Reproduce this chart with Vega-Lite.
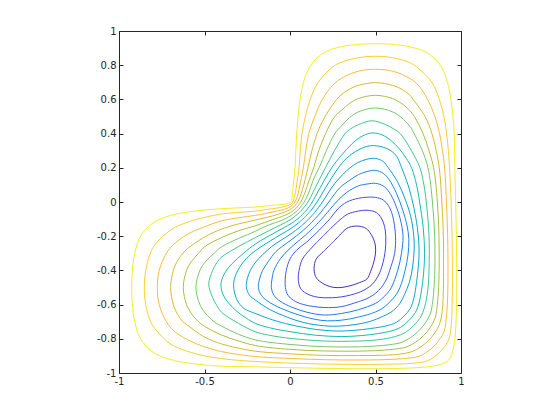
{
"$schema":"https://vega.github.io/schema/vega-lite/v6.json",
"width":342,"height":342,"autosize":"none",
"padding":{"left":119,"top":31,"right":99,"bottom":47},
"background":"white",
"config":{"view":{"stroke":null},"axis":{"grid":false,"domainColor":"#262626","domainWidth":1,"tickColor":"#262626","tickWidth":1,"tickSize":-4,"labelColor":"#262626","labelFont":"DejaVu Sans","labelFontSize":10,"labelFlush":false}},
"data":{"values":[
{"c":1,"x":0.003,"y":-0.003},{"c":1,"x":0.006,"y":0},{"c":1,"x":0.009,"y":0.009},{"c":1,"x":0.014,"y":0.04},{"c":1,"x":0.02,"y":0.11},{"c":1,"x":0.0295,"y":0.2},{"c":1,"x":0.034,"y":0.3},{"c":1,"x":0.039,"y":0.4},{"c":1,"x":0.047,"y":0.5},{"c":1,"x":0.059,"y":0.6},{"c":1,"x":0.079,"y":0.7},{"c":1,"x":0.121,"y":0.8},{"c":1,"x":0.2,"y":0.874},{"c":1,"x":0.3,"y":0.908},{"c":1,"x":0.4,"y":0.922},{"c":1,"x":0.5,"y":0.926},{"c":1,"x":0.6,"y":0.922},{"c":1,"x":0.7,"y":0.908},{"c":1,"x":0.8,"y":0.874},{"c":1,"x":0.879,"y":0.8},{"c":1,"x":0.921,"y":0.7},{"c":1,"x":0.941,"y":0.6},{"c":1,"x":0.953,"y":0.5},{"c":1,"x":0.96,"y":0.4},{"c":1,"x":0.964,"y":0.2},{"c":1,"x":0.969,"y":0},{"c":1,"x":0.973,"y":-0.2},{"c":1,"x":0.975,"y":-0.4},{"c":1,"x":0.974,"y":-0.6},{"c":1,"x":0.97,"y":-0.72},{"c":1,"x":0.962,"y":-0.82},{"c":1,"x":0.948,"y":-0.885},{"c":1,"x":0.926,"y":-0.926},{"c":1,"x":0.885,"y":-0.948},{"c":1,"x":0.82,"y":-0.962},{"c":1,"x":0.72,"y":-0.97},{"c":1,"x":0.6,"y":-0.974},{"c":1,"x":0.4,"y":-0.975},{"c":1,"x":0.2,"y":-0.973},{"c":1,"x":0,"y":-0.969},{"c":1,"x":-0.2,"y":-0.964},{"c":1,"x":-0.4,"y":-0.96},{"c":1,"x":-0.5,"y":-0.953},{"c":1,"x":-0.6,"y":-0.941},{"c":1,"x":-0.7,"y":-0.921},{"c":1,"x":-0.8,"y":-0.879},{"c":1,"x":-0.874,"y":-0.8},{"c":1,"x":-0.908,"y":-0.7},{"c":1,"x":-0.922,"y":-0.6},{"c":1,"x":-0.926,"y":-0.5},{"c":1,"x":-0.922,"y":-0.4},{"c":1,"x":-0.908,"y":-0.3},{"c":1,"x":-0.874,"y":-0.2},{"c":1,"x":-0.8,"y":-0.121},{"c":1,"x":-0.7,"y":-0.079},{"c":1,"x":-0.6,"y":-0.059},{"c":1,"x":-0.5,"y":-0.047},{"c":1,"x":-0.4,"y":-0.039},{"c":1,"x":-0.3,"y":-0.034},{"c":1,"x":-0.2,"y":-0.0295},{"c":1,"x":-0.11,"y":-0.02},{"c":1,"x":-0.04,"y":-0.014},{"c":1,"x":-0.009,"y":-0.009},{"c":1,"x":0,"y":-0.006},{"c":1,"x":0.003,"y":-0.003},
{"c":2,"x":0.009,"y":-0.009},{"c":2,"x":0.016,"y":0},{"c":2,"x":0.025,"y":0.025},{"c":2,"x":0.032,"y":0.055},{"c":2,"x":0.04,"y":0.11},{"c":2,"x":0.053,"y":0.2},{"c":2,"x":0.06,"y":0.3},{"c":2,"x":0.07,"y":0.4},{"c":2,"x":0.09,"y":0.5},{"c":2,"x":0.118,"y":0.6},{"c":2,"x":0.165,"y":0.7},{"c":2,"x":0.25,"y":0.79},{"c":2,"x":0.3,"y":0.817},{"c":2,"x":0.4,"y":0.844},{"c":2,"x":0.49,"y":0.852},{"c":2,"x":0.6,"y":0.844},{"c":2,"x":0.7,"y":0.815},{"c":2,"x":0.74,"y":0.79},{"c":2,"x":0.83,"y":0.7},{"c":2,"x":0.873,"y":0.6},{"c":2,"x":0.9,"y":0.5},{"c":2,"x":0.916,"y":0.4},{"c":2,"x":0.926,"y":0.3},{"c":2,"x":0.933,"y":0.2},{"c":2,"x":0.942,"y":0},{"c":2,"x":0.948,"y":-0.2},{"c":2,"x":0.95,"y":-0.4},{"c":2,"x":0.948,"y":-0.6},{"c":2,"x":0.943,"y":-0.72},{"c":2,"x":0.93,"y":-0.8},{"c":2,"x":0.908,"y":-0.84},{"c":2,"x":0.877,"y":-0.877},{"c":2,"x":0.84,"y":-0.908},{"c":2,"x":0.8,"y":-0.93},{"c":2,"x":0.72,"y":-0.943},{"c":2,"x":0.6,"y":-0.948},{"c":2,"x":0.4,"y":-0.95},{"c":2,"x":0.2,"y":-0.948},{"c":2,"x":0,"y":-0.942},{"c":2,"x":-0.2,"y":-0.933},{"c":2,"x":-0.3,"y":-0.926},{"c":2,"x":-0.4,"y":-0.916},{"c":2,"x":-0.5,"y":-0.9},{"c":2,"x":-0.6,"y":-0.873},{"c":2,"x":-0.7,"y":-0.83},{"c":2,"x":-0.79,"y":-0.74},{"c":2,"x":-0.815,"y":-0.7},{"c":2,"x":-0.844,"y":-0.6},{"c":2,"x":-0.852,"y":-0.49},{"c":2,"x":-0.844,"y":-0.4},{"c":2,"x":-0.817,"y":-0.3},{"c":2,"x":-0.79,"y":-0.25},{"c":2,"x":-0.7,"y":-0.165},{"c":2,"x":-0.6,"y":-0.118},{"c":2,"x":-0.5,"y":-0.09},{"c":2,"x":-0.4,"y":-0.07},{"c":2,"x":-0.3,"y":-0.06},{"c":2,"x":-0.2,"y":-0.053},{"c":2,"x":-0.11,"y":-0.04},{"c":2,"x":-0.055,"y":-0.032},{"c":2,"x":-0.025,"y":-0.025},{"c":2,"x":0,"y":-0.016},{"c":2,"x":0.009,"y":-0.009},
{"c":3,"x":0.016,"y":-0.016},{"c":3,"x":0.029,"y":0},{"c":3,"x":0.047,"y":0.047},{"c":3,"x":0.058,"y":0.1},{"c":3,"x":0.078,"y":0.2},{"c":3,"x":0.092,"y":0.3},{"c":3,"x":0.11,"y":0.4},{"c":3,"x":0.145,"y":0.5},{"c":3,"x":0.189,"y":0.6},{"c":3,"x":0.25,"y":0.683},{"c":3,"x":0.3,"y":0.723},{"c":3,"x":0.4,"y":0.765},{"c":3,"x":0.5,"y":0.776},{"c":3,"x":0.6,"y":0.765},{"c":3,"x":0.7,"y":0.723},{"c":3,"x":0.75,"y":0.683},{"c":3,"x":0.805,"y":0.6},{"c":3,"x":0.847,"y":0.5},{"c":3,"x":0.875,"y":0.4},{"c":3,"x":0.892,"y":0.3},{"c":3,"x":0.904,"y":0.2},{"c":3,"x":0.915,"y":0},{"c":3,"x":0.922,"y":-0.2},{"c":3,"x":0.924,"y":-0.4},{"c":3,"x":0.922,"y":-0.55},{"c":3,"x":0.916,"y":-0.66},{"c":3,"x":0.902,"y":-0.755},{"c":3,"x":0.877,"y":-0.8},{"c":3,"x":0.843,"y":-0.843},{"c":3,"x":0.8,"y":-0.877},{"c":3,"x":0.755,"y":-0.902},{"c":3,"x":0.66,"y":-0.916},{"c":3,"x":0.55,"y":-0.922},{"c":3,"x":0.4,"y":-0.924},{"c":3,"x":0.2,"y":-0.922},{"c":3,"x":0,"y":-0.915},{"c":3,"x":-0.2,"y":-0.904},{"c":3,"x":-0.3,"y":-0.892},{"c":3,"x":-0.4,"y":-0.875},{"c":3,"x":-0.5,"y":-0.847},{"c":3,"x":-0.6,"y":-0.805},{"c":3,"x":-0.683,"y":-0.75},{"c":3,"x":-0.723,"y":-0.7},{"c":3,"x":-0.765,"y":-0.6},{"c":3,"x":-0.776,"y":-0.5},{"c":3,"x":-0.765,"y":-0.4},{"c":3,"x":-0.723,"y":-0.3},{"c":3,"x":-0.683,"y":-0.25},{"c":3,"x":-0.6,"y":-0.189},{"c":3,"x":-0.5,"y":-0.145},{"c":3,"x":-0.4,"y":-0.11},{"c":3,"x":-0.3,"y":-0.092},{"c":3,"x":-0.2,"y":-0.078},{"c":3,"x":-0.1,"y":-0.058},{"c":3,"x":-0.047,"y":-0.047},{"c":3,"x":0,"y":-0.029},{"c":3,"x":0.016,"y":-0.016},
{"c":4,"x":0.025,"y":-0.025},{"c":4,"x":0.045,"y":0},{"c":4,"x":0.073,"y":0.073},{"c":4,"x":0.105,"y":0.2},{"c":4,"x":0.128,"y":0.3},{"c":4,"x":0.158,"y":0.4},{"c":4,"x":0.205,"y":0.5},{"c":4,"x":0.273,"y":0.6},{"c":4,"x":0.3,"y":0.627},{"c":4,"x":0.35,"y":0.661},{"c":4,"x":0.4,"y":0.682},{"c":4,"x":0.5,"y":0.698},{"c":4,"x":0.6,"y":0.682},{"c":4,"x":0.65,"y":0.661},{"c":4,"x":0.7,"y":0.627},{"c":4,"x":0.72,"y":0.6},{"c":4,"x":0.79,"y":0.5},{"c":4,"x":0.83,"y":0.4},{"c":4,"x":0.855,"y":0.3},{"c":4,"x":0.873,"y":0.2},{"c":4,"x":0.888,"y":0},{"c":4,"x":0.897,"y":-0.2},{"c":4,"x":0.898,"y":-0.4},{"c":4,"x":0.896,"y":-0.55},{"c":4,"x":0.89,"y":-0.64},{"c":4,"x":0.875,"y":-0.713},{"c":4,"x":0.847,"y":-0.765},{"c":4,"x":0.81,"y":-0.81},{"c":4,"x":0.765,"y":-0.847},{"c":4,"x":0.713,"y":-0.875},{"c":4,"x":0.64,"y":-0.89},{"c":4,"x":0.55,"y":-0.896},{"c":4,"x":0.4,"y":-0.898},{"c":4,"x":0.2,"y":-0.897},{"c":4,"x":0,"y":-0.888},{"c":4,"x":-0.2,"y":-0.873},{"c":4,"x":-0.3,"y":-0.855},{"c":4,"x":-0.4,"y":-0.83},{"c":4,"x":-0.5,"y":-0.79},{"c":4,"x":-0.6,"y":-0.72},{"c":4,"x":-0.627,"y":-0.7},{"c":4,"x":-0.661,"y":-0.65},{"c":4,"x":-0.682,"y":-0.6},{"c":4,"x":-0.698,"y":-0.5},{"c":4,"x":-0.682,"y":-0.4},{"c":4,"x":-0.661,"y":-0.35},{"c":4,"x":-0.627,"y":-0.3},{"c":4,"x":-0.6,"y":-0.273},{"c":4,"x":-0.5,"y":-0.205},{"c":4,"x":-0.4,"y":-0.158},{"c":4,"x":-0.3,"y":-0.128},{"c":4,"x":-0.2,"y":-0.105},{"c":4,"x":-0.073,"y":-0.073},{"c":4,"x":0,"y":-0.045},{"c":4,"x":0.025,"y":-0.025},
{"c":5,"x":0.036,"y":-0.036},{"c":5,"x":0.063,"y":0},{"c":5,"x":0.079,"y":0.033},{"c":5,"x":0.104,"y":0.104},{"c":5,"x":0.138,"y":0.2},{"c":5,"x":0.168,"y":0.3},{"c":5,"x":0.208,"y":0.4},{"c":5,"x":0.262,"y":0.5},{"c":5,"x":0.3,"y":0.535},{"c":5,"x":0.35,"y":0.578},{"c":5,"x":0.4,"y":0.605},{"c":5,"x":0.5,"y":0.624},{"c":5,"x":0.6,"y":0.605},{"c":5,"x":0.65,"y":0.578},{"c":5,"x":0.7,"y":0.535},{"c":5,"x":0.727,"y":0.5},{"c":5,"x":0.778,"y":0.4},{"c":5,"x":0.813,"y":0.3},{"c":5,"x":0.84,"y":0.2},{"c":5,"x":0.862,"y":0},{"c":5,"x":0.871,"y":-0.2},{"c":5,"x":0.872,"y":-0.4},{"c":5,"x":0.869,"y":-0.5},{"c":5,"x":0.862,"y":-0.6},{"c":5,"x":0.848,"y":-0.68},{"c":5,"x":0.82,"y":-0.734},{"c":5,"x":0.781,"y":-0.781},{"c":5,"x":0.734,"y":-0.82},{"c":5,"x":0.68,"y":-0.848},{"c":5,"x":0.6,"y":-0.862},{"c":5,"x":0.5,"y":-0.869},{"c":5,"x":0.4,"y":-0.872},{"c":5,"x":0.2,"y":-0.871},{"c":5,"x":0,"y":-0.862},{"c":5,"x":-0.2,"y":-0.84},{"c":5,"x":-0.3,"y":-0.813},{"c":5,"x":-0.4,"y":-0.778},{"c":5,"x":-0.5,"y":-0.727},{"c":5,"x":-0.535,"y":-0.7},{"c":5,"x":-0.578,"y":-0.65},{"c":5,"x":-0.605,"y":-0.6},{"c":5,"x":-0.624,"y":-0.5},{"c":5,"x":-0.605,"y":-0.4},{"c":5,"x":-0.578,"y":-0.35},{"c":5,"x":-0.535,"y":-0.3},{"c":5,"x":-0.5,"y":-0.262},{"c":5,"x":-0.4,"y":-0.208},{"c":5,"x":-0.3,"y":-0.168},{"c":5,"x":-0.2,"y":-0.138},{"c":5,"x":-0.104,"y":-0.104},{"c":5,"x":-0.033,"y":-0.079},{"c":5,"x":0,"y":-0.063},{"c":5,"x":0.036,"y":-0.036},
{"c":6,"x":0.047,"y":-0.047},{"c":6,"x":0.083,"y":0},{"c":6,"x":0.105,"y":0.043},{"c":6,"x":0.141,"y":0.141},{"c":6,"x":0.17,"y":0.2},{"c":6,"x":0.213,"y":0.3},{"c":6,"x":0.262,"y":0.4},{"c":6,"x":0.3,"y":0.444},{"c":6,"x":0.35,"y":0.495},{"c":6,"x":0.4,"y":0.527},{"c":6,"x":0.5,"y":0.55},{"c":6,"x":0.6,"y":0.527},{"c":6,"x":0.65,"y":0.495},{"c":6,"x":0.7,"y":0.444},{"c":6,"x":0.726,"y":0.4},{"c":6,"x":0.774,"y":0.3},{"c":6,"x":0.807,"y":0.2},{"c":6,"x":0.833,"y":0},{"c":6,"x":0.846,"y":-0.2},{"c":6,"x":0.847,"y":-0.4},{"c":6,"x":0.842,"y":-0.5},{"c":6,"x":0.835,"y":-0.58},{"c":6,"x":0.82,"y":-0.655},{"c":6,"x":0.792,"y":-0.706},{"c":6,"x":0.753,"y":-0.753},{"c":6,"x":0.706,"y":-0.792},{"c":6,"x":0.655,"y":-0.82},{"c":6,"x":0.58,"y":-0.835},{"c":6,"x":0.5,"y":-0.842},{"c":6,"x":0.4,"y":-0.847},{"c":6,"x":0.2,"y":-0.846},{"c":6,"x":0,"y":-0.833},{"c":6,"x":-0.2,"y":-0.807},{"c":6,"x":-0.3,"y":-0.774},{"c":6,"x":-0.4,"y":-0.726},{"c":6,"x":-0.444,"y":-0.7},{"c":6,"x":-0.495,"y":-0.65},{"c":6,"x":-0.527,"y":-0.6},{"c":6,"x":-0.55,"y":-0.5},{"c":6,"x":-0.527,"y":-0.4},{"c":6,"x":-0.495,"y":-0.35},{"c":6,"x":-0.444,"y":-0.3},{"c":6,"x":-0.4,"y":-0.262},{"c":6,"x":-0.3,"y":-0.213},{"c":6,"x":-0.2,"y":-0.17},{"c":6,"x":-0.141,"y":-0.141},{"c":6,"x":-0.043,"y":-0.105},{"c":6,"x":0,"y":-0.083},{"c":6,"x":0.047,"y":-0.047},
{"c":7,"x":0.059,"y":-0.059},{"c":7,"x":0.105,"y":0},{"c":7,"x":0.134,"y":0.056},{"c":7,"x":0.17,"y":0.128},{"c":7,"x":0.207,"y":0.2},{"c":7,"x":0.26,"y":0.3},{"c":7,"x":0.322,"y":0.4},{"c":7,"x":0.355,"y":0.428},{"c":7,"x":0.4,"y":0.452},{"c":7,"x":0.48,"y":0.475},{"c":7,"x":0.56,"y":0.452},{"c":7,"x":0.605,"y":0.428},{"c":7,"x":0.645,"y":0.4},{"c":7,"x":0.71,"y":0.3},{"c":7,"x":0.76,"y":0.2},{"c":7,"x":0.783,"y":0.1},{"c":7,"x":0.797,"y":0},{"c":7,"x":0.813,"y":-0.2},{"c":7,"x":0.813,"y":-0.4},{"c":7,"x":0.805,"y":-0.52},{"c":7,"x":0.787,"y":-0.615},{"c":7,"x":0.762,"y":-0.676},{"c":7,"x":0.723,"y":-0.723},{"c":7,"x":0.676,"y":-0.762},{"c":7,"x":0.615,"y":-0.787},{"c":7,"x":0.52,"y":-0.805},{"c":7,"x":0.4,"y":-0.813},{"c":7,"x":0.2,"y":-0.813},{"c":7,"x":0,"y":-0.797},{"c":7,"x":-0.1,"y":-0.783},{"c":7,"x":-0.2,"y":-0.76},{"c":7,"x":-0.3,"y":-0.71},{"c":7,"x":-0.4,"y":-0.645},{"c":7,"x":-0.428,"y":-0.605},{"c":7,"x":-0.452,"y":-0.56},{"c":7,"x":-0.475,"y":-0.48},{"c":7,"x":-0.452,"y":-0.4},{"c":7,"x":-0.428,"y":-0.355},{"c":7,"x":-0.4,"y":-0.322},{"c":7,"x":-0.3,"y":-0.26},{"c":7,"x":-0.2,"y":-0.207},{"c":7,"x":-0.128,"y":-0.17},{"c":7,"x":-0.056,"y":-0.134},{"c":7,"x":0,"y":-0.105},{"c":7,"x":0.059,"y":-0.059},
{"c":8,"x":0.073,"y":-0.073},{"c":8,"x":0.101,"y":-0.042},{"c":8,"x":0.13,"y":0},{"c":8,"x":0.169,"y":0.07},{"c":8,"x":0.244,"y":0.2},{"c":8,"x":0.3,"y":0.272},{"c":8,"x":0.36,"y":0.338},{"c":8,"x":0.42,"y":0.384},{"c":8,"x":0.48,"y":0.404},{"c":8,"x":0.54,"y":0.392},{"c":8,"x":0.59,"y":0.36},{"c":8,"x":0.64,"y":0.31},{"c":8,"x":0.68,"y":0.255},{"c":8,"x":0.711,"y":0.2},{"c":8,"x":0.74,"y":0.1},{"c":8,"x":0.758,"y":0},{"c":8,"x":0.779,"y":-0.15},{"c":8,"x":0.787,"y":-0.3},{"c":8,"x":0.781,"y":-0.42},{"c":8,"x":0.77,"y":-0.51},{"c":8,"x":0.755,"y":-0.59},{"c":8,"x":0.733,"y":-0.647},{"c":8,"x":0.694,"y":-0.694},{"c":8,"x":0.647,"y":-0.733},{"c":8,"x":0.59,"y":-0.755},{"c":8,"x":0.51,"y":-0.77},{"c":8,"x":0.42,"y":-0.781},{"c":8,"x":0.3,"y":-0.787},{"c":8,"x":0.15,"y":-0.779},{"c":8,"x":0,"y":-0.758},{"c":8,"x":-0.1,"y":-0.74},{"c":8,"x":-0.2,"y":-0.711},{"c":8,"x":-0.255,"y":-0.68},{"c":8,"x":-0.31,"y":-0.64},{"c":8,"x":-0.36,"y":-0.59},{"c":8,"x":-0.392,"y":-0.54},{"c":8,"x":-0.404,"y":-0.48},{"c":8,"x":-0.384,"y":-0.42},{"c":8,"x":-0.338,"y":-0.36},{"c":8,"x":-0.272,"y":-0.3},{"c":8,"x":-0.2,"y":-0.244},{"c":8,"x":-0.07,"y":-0.169},{"c":8,"x":0,"y":-0.13},{"c":8,"x":0.042,"y":-0.101},{"c":8,"x":0.073,"y":-0.073},
{"c":9,"x":0.088,"y":-0.088},{"c":9,"x":0.122,"y":-0.05},{"c":9,"x":0.158,"y":0},{"c":9,"x":0.21,"y":0.087},{"c":9,"x":0.283,"y":0.2},{"c":9,"x":0.33,"y":0.255},{"c":9,"x":0.4,"y":0.305},{"c":9,"x":0.47,"y":0.329},{"c":9,"x":0.54,"y":0.322},{"c":9,"x":0.59,"y":0.3},{"c":9,"x":0.625,"y":0.265},{"c":9,"x":0.653,"y":0.2},{"c":9,"x":0.69,"y":0.1},{"c":9,"x":0.717,"y":0},{"c":9,"x":0.745,"y":-0.15},{"c":9,"x":0.755,"y":-0.28},{"c":9,"x":0.75,"y":-0.38},{"c":9,"x":0.74,"y":-0.47},{"c":9,"x":0.725,"y":-0.56},{"c":9,"x":0.704,"y":-0.622},{"c":9,"x":0.667,"y":-0.667},{"c":9,"x":0.622,"y":-0.704},{"c":9,"x":0.56,"y":-0.725},{"c":9,"x":0.47,"y":-0.74},{"c":9,"x":0.38,"y":-0.75},{"c":9,"x":0.28,"y":-0.755},{"c":9,"x":0.15,"y":-0.745},{"c":9,"x":0,"y":-0.717},{"c":9,"x":-0.1,"y":-0.69},{"c":9,"x":-0.2,"y":-0.653},{"c":9,"x":-0.265,"y":-0.625},{"c":9,"x":-0.3,"y":-0.59},{"c":9,"x":-0.322,"y":-0.54},{"c":9,"x":-0.329,"y":-0.47},{"c":9,"x":-0.305,"y":-0.4},{"c":9,"x":-0.255,"y":-0.33},{"c":9,"x":-0.2,"y":-0.283},{"c":9,"x":-0.087,"y":-0.21},{"c":9,"x":0,"y":-0.158},{"c":9,"x":0.05,"y":-0.122},{"c":9,"x":0.088,"y":-0.088},
{"c":10,"x":0.105,"y":-0.105},{"c":10,"x":0.145,"y":-0.06},{"c":10,"x":0.19,"y":0},{"c":10,"x":0.262,"y":0.109},{"c":10,"x":0.351,"y":0.2},{"c":10,"x":0.4,"y":0.232},{"c":10,"x":0.45,"y":0.25},{"c":10,"x":0.5,"y":0.255},{"c":10,"x":0.545,"y":0.237},{"c":10,"x":0.575,"y":0.2},{"c":10,"x":0.628,"y":0.12},{"c":10,"x":0.672,"y":0.02},{"c":10,"x":0.705,"y":-0.08},{"c":10,"x":0.724,"y":-0.2},{"c":10,"x":0.726,"y":-0.28},{"c":10,"x":0.717,"y":-0.38},{"c":10,"x":0.698,"y":-0.47},{"c":10,"x":0.67,"y":-0.54},{"c":10,"x":0.645,"y":-0.59},{"c":10,"x":0.62,"y":-0.62},{"c":10,"x":0.59,"y":-0.645},{"c":10,"x":0.54,"y":-0.67},{"c":10,"x":0.47,"y":-0.698},{"c":10,"x":0.38,"y":-0.717},{"c":10,"x":0.28,"y":-0.726},{"c":10,"x":0.2,"y":-0.724},{"c":10,"x":0.08,"y":-0.705},{"c":10,"x":-0.02,"y":-0.672},{"c":10,"x":-0.12,"y":-0.628},{"c":10,"x":-0.2,"y":-0.575},{"c":10,"x":-0.237,"y":-0.545},{"c":10,"x":-0.255,"y":-0.5},{"c":10,"x":-0.25,"y":-0.45},{"c":10,"x":-0.232,"y":-0.4},{"c":10,"x":-0.2,"y":-0.351},{"c":10,"x":-0.109,"y":-0.262},{"c":10,"x":0,"y":-0.19},{"c":10,"x":0.06,"y":-0.145},{"c":10,"x":0.105,"y":-0.105},
{"c":11,"x":0.123,"y":-0.123},{"c":11,"x":0.171,"y":-0.071},{"c":11,"x":0.227,"y":0},{"c":11,"x":0.29,"y":0.082},{"c":11,"x":0.35,"y":0.128},{"c":11,"x":0.4,"y":0.16},{"c":11,"x":0.45,"y":0.178},{"c":11,"x":0.5,"y":0.185},{"c":11,"x":0.545,"y":0.168},{"c":11,"x":0.58,"y":0.13},{"c":11,"x":0.623,"y":0.05},{"c":11,"x":0.66,"y":-0.05},{"c":11,"x":0.685,"y":-0.14},{"c":11,"x":0.695,"y":-0.22},{"c":11,"x":0.69,"y":-0.31},{"c":11,"x":0.673,"y":-0.4},{"c":11,"x":0.643,"y":-0.5},{"c":11,"x":0.615,"y":-0.55},{"c":11,"x":0.584,"y":-0.584},{"c":11,"x":0.55,"y":-0.615},{"c":11,"x":0.5,"y":-0.643},{"c":11,"x":0.4,"y":-0.673},{"c":11,"x":0.31,"y":-0.69},{"c":11,"x":0.22,"y":-0.695},{"c":11,"x":0.14,"y":-0.685},{"c":11,"x":0.05,"y":-0.66},{"c":11,"x":-0.05,"y":-0.623},{"c":11,"x":-0.13,"y":-0.58},{"c":11,"x":-0.168,"y":-0.545},{"c":11,"x":-0.185,"y":-0.5},{"c":11,"x":-0.178,"y":-0.45},{"c":11,"x":-0.16,"y":-0.4},{"c":11,"x":-0.128,"y":-0.35},{"c":11,"x":-0.082,"y":-0.29},{"c":11,"x":0,"y":-0.227},{"c":11,"x":0.071,"y":-0.171},{"c":11,"x":0.123,"y":-0.123},
{"c":12,"x":0.144,"y":-0.144},{"c":12,"x":0.2,"y":-0.083},{"c":12,"x":0.271,"y":0},{"c":12,"x":0.33,"y":0.055},{"c":12,"x":0.4,"y":0.094},{"c":12,"x":0.45,"y":0.105},{"c":12,"x":0.5,"y":0.109},{"c":12,"x":0.545,"y":0.094},{"c":12,"x":0.58,"y":0.058},{"c":12,"x":0.615,"y":-0.01},{"c":12,"x":0.645,"y":-0.1},{"c":12,"x":0.661,"y":-0.2},{"c":12,"x":0.652,"y":-0.3},{"c":12,"x":0.63,"y":-0.4},{"c":12,"x":0.593,"y":-0.5},{"c":12,"x":0.572,"y":-0.53},{"c":12,"x":0.552,"y":-0.552},{"c":12,"x":0.53,"y":-0.572},{"c":12,"x":0.5,"y":-0.593},{"c":12,"x":0.4,"y":-0.63},{"c":12,"x":0.3,"y":-0.652},{"c":12,"x":0.2,"y":-0.661},{"c":12,"x":0.1,"y":-0.645},{"c":12,"x":0.01,"y":-0.615},{"c":12,"x":-0.058,"y":-0.58},{"c":12,"x":-0.094,"y":-0.545},{"c":12,"x":-0.109,"y":-0.5},{"c":12,"x":-0.105,"y":-0.45},{"c":12,"x":-0.094,"y":-0.4},{"c":12,"x":-0.055,"y":-0.33},{"c":12,"x":0,"y":-0.271},{"c":12,"x":0.083,"y":-0.2},{"c":12,"x":0.144,"y":-0.144},
{"c":13,"x":0.168,"y":-0.168},{"c":13,"x":0.2,"y":-0.134},{"c":13,"x":0.235,"y":-0.097},{"c":13,"x":0.28,"y":-0.04},{"c":13,"x":0.333,"y":0},{"c":13,"x":0.4,"y":0.022},{"c":13,"x":0.45,"y":0.028},{"c":13,"x":0.5,"y":0.027},{"c":13,"x":0.545,"y":0.012},{"c":13,"x":0.575,"y":-0.02},{"c":13,"x":0.6,"y":-0.08},{"c":13,"x":0.617,"y":-0.2},{"c":13,"x":0.612,"y":-0.3},{"c":13,"x":0.583,"y":-0.4},{"c":13,"x":0.565,"y":-0.45},{"c":13,"x":0.545,"y":-0.485},{"c":13,"x":0.518,"y":-0.518},{"c":13,"x":0.485,"y":-0.545},{"c":13,"x":0.45,"y":-0.565},{"c":13,"x":0.4,"y":-0.583},{"c":13,"x":0.3,"y":-0.612},{"c":13,"x":0.2,"y":-0.617},{"c":13,"x":0.08,"y":-0.6},{"c":13,"x":0.02,"y":-0.575},{"c":13,"x":-0.012,"y":-0.545},{"c":13,"x":-0.027,"y":-0.5},{"c":13,"x":-0.028,"y":-0.45},{"c":13,"x":-0.022,"y":-0.4},{"c":13,"x":0,"y":-0.333},{"c":13,"x":0.04,"y":-0.28},{"c":13,"x":0.097,"y":-0.235},{"c":13,"x":0.134,"y":-0.2},{"c":13,"x":0.168,"y":-0.168},
{"c":14,"x":0.196,"y":-0.196},{"c":14,"x":0.236,"y":-0.157},{"c":14,"x":0.279,"y":-0.116},{"c":14,"x":0.335,"y":-0.072},{"c":14,"x":0.4,"y":-0.053},{"c":14,"x":0.45,"y":-0.048},{"c":14,"x":0.504,"y":-0.061},{"c":14,"x":0.534,"y":-0.094},{"c":14,"x":0.553,"y":-0.143},{"c":14,"x":0.56,"y":-0.2},{"c":14,"x":0.555,"y":-0.3},{"c":14,"x":0.53,"y":-0.4},{"c":14,"x":0.505,"y":-0.45},{"c":14,"x":0.481,"y":-0.481},{"c":14,"x":0.45,"y":-0.505},{"c":14,"x":0.4,"y":-0.53},{"c":14,"x":0.3,"y":-0.555},{"c":14,"x":0.2,"y":-0.56},{"c":14,"x":0.143,"y":-0.553},{"c":14,"x":0.094,"y":-0.534},{"c":14,"x":0.061,"y":-0.504},{"c":14,"x":0.048,"y":-0.45},{"c":14,"x":0.053,"y":-0.4},{"c":14,"x":0.072,"y":-0.335},{"c":14,"x":0.116,"y":-0.279},{"c":14,"x":0.157,"y":-0.236},{"c":14,"x":0.196,"y":-0.196},
{"c":15,"x":0.243,"y":-0.243},{"c":15,"x":0.29,"y":-0.195},{"c":15,"x":0.332,"y":-0.154},{"c":15,"x":0.37,"y":-0.142},{"c":15,"x":0.409,"y":-0.142},{"c":15,"x":0.445,"y":-0.155},{"c":15,"x":0.475,"y":-0.19},{"c":15,"x":0.495,"y":-0.235},{"c":15,"x":0.501,"y":-0.281},{"c":15,"x":0.493,"y":-0.34},{"c":15,"x":0.472,"y":-0.405},{"c":15,"x":0.45,"y":-0.45},{"c":15,"x":0.405,"y":-0.472},{"c":15,"x":0.34,"y":-0.493},{"c":15,"x":0.281,"y":-0.501},{"c":15,"x":0.235,"y":-0.495},{"c":15,"x":0.19,"y":-0.475},{"c":15,"x":0.155,"y":-0.445},{"c":15,"x":0.142,"y":-0.409},{"c":15,"x":0.142,"y":-0.37},{"c":15,"x":0.154,"y":-0.332},{"c":15,"x":0.195,"y":-0.29},{"c":15,"x":0.243,"y":-0.243}
]},
"layer":[
{"mark":{"type":"line","interpolate":"catmull-rom","strokeWidth":1,"clip":true},
 "encoding":{
  "x":{"field":"x","type":"quantitative","scale":{"domain":[-1,1],"nice":false,"zero":false},"axis":{"title":null,"values":[-1,-0.5,0,0.5,1],"format":"~g","labelExpr":"replace(datum.label,'\u2212','-')","labelPadding":7}},
  "y":{"field":"y","type":"quantitative","scale":{"domain":[-1,1],"nice":false,"zero":false},"axis":{"title":null,"values":[-1,-0.8,-0.6,-0.4,-0.2,0,0.2,0.4,0.6,0.8,1],"format":"~g","labelExpr":"replace(datum.label,'\u2212','-')","labelPadding":7}},
  "color":{"field":"c","type":"nominal","legend":null,"scale":{"domain":[1,2,3,4,5,6,7,8,9,10,11,12,13,14,15],"range":["#f4ee1e","#fbd02e","#f7bd3a","#d9ba2c","#aabf3e","#78c869","#40c68e","#17baad","#05adc9","#0d9cde","#168ae9","#2178f7","#3460f5","#4444e6","#4230c4"]}},
  "order":{"value":null}
 }},
{"data":{"values":[{"x":0,"y":0}]},
 "mark":{"type":"point","opacity":0},
 "encoding":{
  "x":{"field":"x","type":"quantitative","axis":{"orient":"top","title":null,"labels":false,"values":[-1,-0.5,0,0.5,1]}},
  "y":{"field":"y","type":"quantitative","axis":{"orient":"right","title":null,"labels":false,"values":[-1,-0.8,-0.6,-0.4,-0.2,0,0.2,0.4,0.6,0.8,1]}}
 }}
],
"resolve":{"axis":{"x":"independent","y":"independent"}}
}
